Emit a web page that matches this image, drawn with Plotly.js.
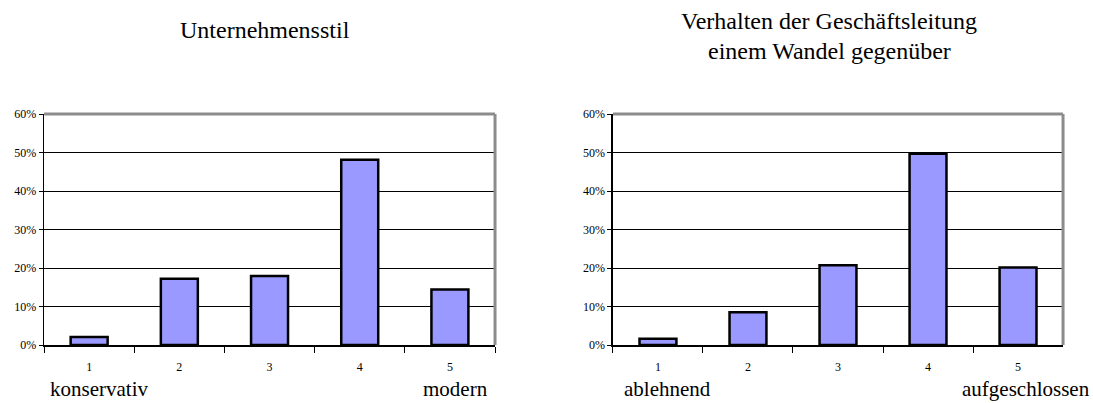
<!DOCTYPE html>
<html>
<head>
<meta charset="utf-8">
<script src="https://cdn.plot.ly/plotly-3.0.1.min.js"></script>
<style>html,body{margin:0;padding:0;background:#fff}#chart{width:1093px;height:403px}</style>
</head>
<body>
<div id="chart"></div>
<script>
const categories = ["1", "2", "3", "4", "5"];
const stilValues = [2.1, 17.2, 17.9, 48.1, 14.4];
const wandelValues = [1.6, 8.5, 20.7, 49.7, 20.1];
const titleLeft = "Unternehmensstil";
const titleRight = ["Verhalten der Geschäftsleitung", "einem Wandel gegenüber"];
const leftLabels = ["konservativ", "modern"];
const rightLabels = ["ablehnend", "aufgeschlossen"];

const font = "'Liberation Serif', 'Times New Roman', Times, serif";
const barStyle = {color: "#9999FF", line: {color: "#000000", width: 2.5}};

const traces = [
  {type: "bar", x: categories, y: stilValues, marker: barStyle, xaxis: "x", yaxis: "y", hoverinfo: "none"},
  {type: "bar", x: categories, y: wandelValues, marker: barStyle, xaxis: "x2", yaxis: "y2", hoverinfo: "none"}
];

function xax(domain, anchor) {
  return {
    domain: domain, anchor: anchor, type: "category", tickson: "boundaries",
    ticks: "outside", ticklen: 6, tickcolor: "#000", tickwidth: 1,
    ticklabelstandoff: 10,
    showline: true, linecolor: "#000", linewidth: 1.5, showgrid: false, zeroline: false,
    tickfont: {family: font, size: 12, color: "#000"}, fixedrange: true
  };
}
function yax(anchor) {
  return {
    domain: [0.1439, 0.7171], anchor: anchor, range: [0, 60], dtick: 10, tick0: 0,
    ticksuffix: "%", ticks: "outside", ticklen: 4, tickcolor: "#000",
    showline: true, linecolor: "#000", linewidth: 1.5,
    showgrid: true, gridcolor: "#000", gridwidth: 1, zeroline: false,
    tickfont: {family: font, size: 12, color: "#000"}, fixedrange: true
  };
}

function note(text, xref, x, y, xanchor, size) {
  return {text: text, xref: xref, yref: "paper", x: x, y: y, xanchor: xanchor, yanchor: "middle",
          showarrow: false, font: {family: font, size: size, color: "#000"}};
}

const layout = {
  width: 1093, height: 403, margin: {l: 0, r: 0, t: 0, b: 0},
  paper_bgcolor: "#fff", plot_bgcolor: "#fff", showlegend: false,
  bargap: 0.59,
  font: {family: font, color: "#000"},
  xaxis: xax([0.0403, 0.4529], "y"),
  yaxis: yax("x"),
  xaxis2: xax([0.5608, 0.9726], "y2"),
  yaxis2: yax("x2"),
  shapes: [
    {type: "line", xref: "x domain", yref: "y domain", x0: 0, x1: 1, y0: 1, y1: 1, line: {color: "#8c8c8c", width: 3}},
    {type: "line", xref: "x domain", yref: "y domain", x0: 1, x1: 1, y0: 0, y1: 1, line: {color: "#8c8c8c", width: 3}},
    {type: "line", xref: "x2 domain", yref: "y2 domain", x0: 0, x1: 1, y0: 1, y1: 1, line: {color: "#8c8c8c", width: 3}},
    {type: "line", xref: "x2 domain", yref: "y2 domain", x0: 1, x1: 1, y0: 0, y1: 1, line: {color: "#8c8c8c", width: 3}}
  ],
  annotations: [
    note(titleLeft, "x domain", 0.49, 0.926, "center", 24),
    note(titleRight[0], "x2 domain", 0.48, 0.948, "center", 24),
    note(titleRight[1], "x2 domain", 0.48, 0.874, "center", 24),
    note(leftLabels[0], "paper", 0.0439, 0.034, "left", 21),
    note(leftLabels[1], "paper", 0.4483, 0.034, "right", 21),
    note(rightLabels[0], "paper", 0.5691, 0.034, "left", 21),
    note(rightLabels[1], "paper", 0.9991, 0.034, "right", 21)
  ]
};

Plotly.newPlot("chart", traces, layout, {displayModeBar: false, staticPlot: true});
</script>
</body>
</html>
